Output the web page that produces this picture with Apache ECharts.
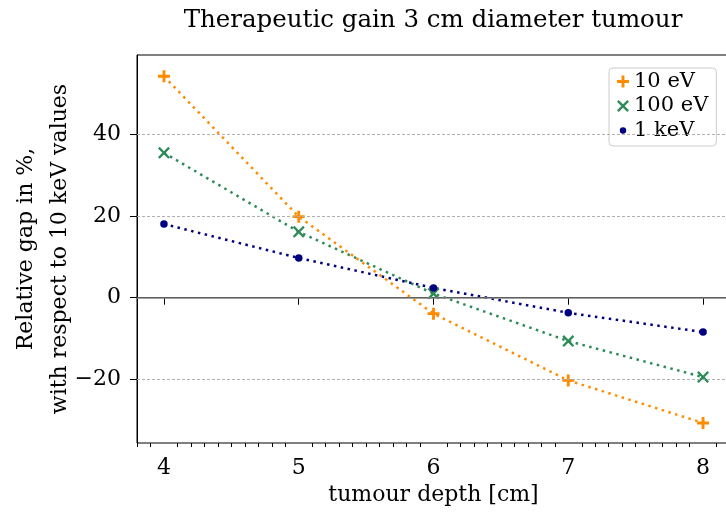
<!DOCTYPE html>
<html>
<meta charset="UTF-8">
<title>therapeutic-gain</title>
<style type="text/css">
    html,
    body {
        margin: 0px;
        height: 100%;
        width: 100%;
        background: #fff;
    }

    #chart {
        width: 726px;
        height: 522px;
    }
</style>
<script src="https://cdn.jsdelivr.net/npm/echarts@6/dist/echarts.min.js"></script>

<body>
    <div id="chart"></div>
    <script>
        // tumour depth [cm]
        const depths = [4, 5, 6, 7, 8];
        // relative gap in % with respect to 10 keV values
        const gap10eV = [54.1, 19.8, -3.9, -20.2, -30.6];
        const gap100eV = [35.4, 16.1, 1.0, -10.6, -19.4];
        const gap1keV = [18.0, 9.7, 2.4, -3.7, -8.4];

        const xTicks = [4, 5, 6, 7, 8];
        const yTicks = [-20, 0, 20, 40];
        const yGrid = [-20, 20, 40];

        // minor ticks every 0.1 cm
        const xMinorTicks = [];
        for (let i = 38; i <= 82; i++) {
            if (i % 10 !== 0) xMinorTicks.push(i / 10);
        }

        const FONT = 'DejaVu Serif';
        const PLUS = 'path://M-1.2,-5 L1.2,-5 L1.2,-1.2 L5,-1.2 L5,1.2 L1.2,1.2 L1.2,5 L-1.2,5 L-1.2,1.2 L-5,1.2 L-5,-1.2 L-1.2,-1.2 Z';
        const CROSS = 'path://M-5,-3.6 L-3.6,-5 L0,-1.4 L3.6,-5 L5,-3.6 L1.4,0 L5,3.6 L3.6,5 L0,1.4 L-3.6,5 L-5,3.6 L-1.4,0 Z';
        const DOT = 'path://M-6,-6 L-6,-6 M6,6 L6,6 M3.2,0 A3.2,3.2 0 1 1 -3.2,0 A3.2,3.2 0 1 1 3.2,0 Z';

        const pairs = (ys) => depths.map((x, i) => [x, ys[i]]);

        const dotted = (color) => ({ color: color, width: 2.5, type: [2.5, 4.5] });

        const chart = echarts.init(document.getElementById('chart'));
        chart.setOption({
            animation: false,
            title: {
                text: 'Therapeutic gain 3 cm diameter tumour',
                left: 428,
                textAlign: 'center',
                top: 3,
                textStyle: { fontFamily: FONT, fontWeight: 'normal', fontSize: 24.5, color: '#000' }
            },
            grid: {
                left: 137, top: 55, right: -4, bottom: 79,
                outerBoundsMode: 'none',
                containLabel: false,
                show: true, borderColor: '#000', borderWidth: 1
            },
            legend: {
                left: 609, top: 68,
                orient: 'vertical',
                itemWidth: 12, itemHeight: 12, itemGap: 3.5,
                padding: [3, 8, 5, 8],
                backgroundColor: 'rgba(255,255,255,0.8)',
                borderColor: '#cccccc', borderWidth: 1, borderRadius: 4,
                textStyle: { fontFamily: FONT, fontSize: 21, color: '#000' },
                data: [
                    { name: '10 eV', icon: PLUS },
                    { name: '100 eV', icon: CROSS },
                    { name: '1 keV', icon: DOT }
                ]
            },
            xAxis: [
                {
                    type: 'value', min: 3.8, max: 8.2,
                    axisLine: { show: true, lineStyle: { color: '#000', width: 1 } },
                    axisTick: { customValues: xTicks, length: 7, lineStyle: { color: '#000' } },
                    axisLabel: { customValues: xTicks, margin: 14, fontFamily: FONT, fontSize: 22, color: '#000' },
                    splitLine: { show: false },
                    name: 'tumour depth [cm]',
                    nameLocation: 'middle',
                    nameGap: 41,
                    nameMoveOverlap: false,
                    nameTextStyle: { fontFamily: FONT, fontSize: 22, color: '#000' }
                },
                {
                    type: 'value', min: 3.8, max: 8.2, position: 'bottom',
                    axisLine: { show: false },
                    axisTick: { customValues: xMinorTicks, length: 4, lineStyle: { color: '#000' } },
                    axisLabel: { show: false },
                    splitLine: { show: false }
                }
            ],
            yAxis: {
                type: 'value', min: -35.5, max: 59.3,
                axisLine: { show: true, lineStyle: { color: '#000', width: 1 } },
                axisTick: { customValues: yTicks, length: 7, lineStyle: { color: '#000' } },
                axisLabel: {
                    customValues: yTicks, margin: 16, fontFamily: FONT, fontSize: 22, color: '#000',
                    formatter: (v) => String(v).replace('-', '\u2212')
                },
                splitLine: { show: false },
                name: 'Relative gap in %,\nwith respect to 10 keV values',
                nameLocation: 'middle',
                nameRotate: 90,
                nameGap: 60,
                nameMoveOverlap: false,
                nameTextStyle: { fontFamily: FONT, fontSize: 22, color: '#000', lineHeight: 34 }
            },
            series: [
                {
                    type: 'line', data: [], z: 1, silent: true,
                    markLine: {
                        silent: true, symbol: 'none', label: { show: false },
                        data: yGrid.map(v => ({ yAxis: v, lineStyle: { color: '#b0b0b0', type: [3, 2], width: 1 } }))
                            .concat([{ yAxis: 0, lineStyle: { color: '#808080', type: 'solid', width: 1.5 } }])
                    }
                },
                {
                    name: '10 eV', type: 'line', z: 3, data: pairs(gap10eV),
                    symbol: PLUS, symbolSize: 12,
                    itemStyle: { color: '#ff8c00' }, lineStyle: dotted('#ff8c00')
                },
                {
                    name: '100 eV', type: 'line', z: 3, data: pairs(gap100eV),
                    symbol: CROSS, symbolSize: 12,
                    itemStyle: { color: '#2e8b57' }, lineStyle: dotted('#2e8b57')
                },
                {
                    name: '1 keV', type: 'line', z: 3, data: pairs(gap1keV),
                    symbol: 'circle', symbolSize: 7.5,
                    itemStyle: { color: '#000080' }, lineStyle: dotted('#000080')
                }
            ]
        });
    </script>
</body>

</html>
